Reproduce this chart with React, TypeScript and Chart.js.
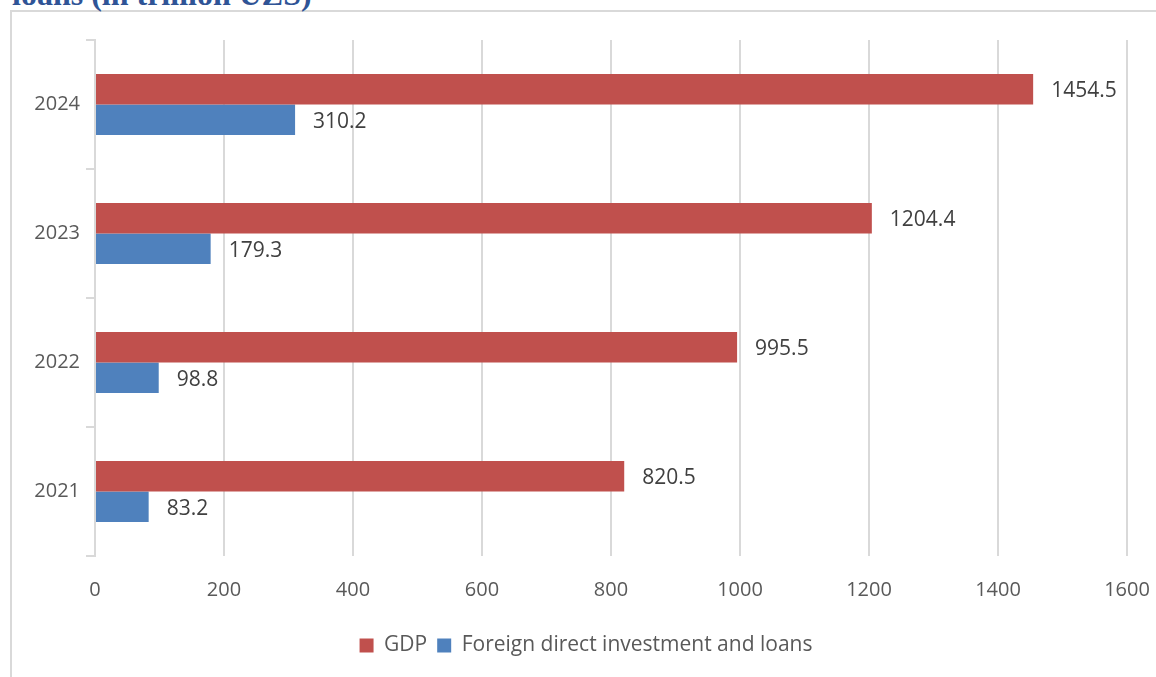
import React, { useEffect, useRef } from "react";
import { Chart, registerables } from "chart.js";

Chart.register(...registerables);

const categories = ["2024", "2023", "2022", "2021"];
const gdpValues = [1454.5, 1204.4, 995.5, 820.5];
const fdiValues = [310.2, 179.3, 98.8, 83.2];
const xTickMax = 1600;
const xTickStep = 200;
const seriesNames = ["GDP", "Foreign direct investment and loans"];
const titleText = "loans (in trillion UZS)";

const FONT = "'Open Sans', 'Noto Sans', sans-serif";

const dataLabelPlugin = {
  id: "dataLabels",
  afterDatasetsDraw(chart: any) {
    const ctx = chart.ctx;
    ctx.save();
    ctx.font = `21px ${FONT}`;
    ctx.fillStyle = "#404040";
    ctx.textAlign = "left";
    ctx.textBaseline = "middle";
    chart.data.datasets.forEach((ds: any, di: number) => {
      const meta = chart.getDatasetMeta(di);
      meta.data.forEach((bar: any, i: number) => {
        const v = ds.data[i] as number;
        ctx.fillText(v.toFixed(1), bar.x + 18, bar.y + 2);
      });
    });
    ctx.restore();
  },
};

const legendShiftPlugin = {
  id: "legendShift",
  beforeDraw(chart: any) {
    if (chart.legend) {
      chart.legend.left = 45;
      chart.legend.right = 1127;
      chart.legend.width = 1127 - 45;
      chart.legend.adjustHitBoxes && chart.legend.adjustHitBoxes();
    }
  },
};

export default function App() {
  const ref = useRef<HTMLCanvasElement | null>(null);
  useEffect(() => {
    if (!ref.current) return;
    const chart = new Chart(ref.current, {
      type: "bar",
      data: {
        labels: categories,
        datasets: [
          {
            label: seriesNames[0],
            data: gdpValues,
            backgroundColor: "#C0504D",
            categoryPercentage: 0.472,
            barPercentage: 1,
          },
          {
            label: seriesNames[1],
            data: fdiValues,
            backgroundColor: "#4F81BD",
            categoryPercentage: 0.472,
            barPercentage: 1,
          },
        ],
      },
      options: {
        indexAxis: "y",
        responsive: false,
        animation: false,
        layout: { padding: { left: 0, right: 29, top: 40, bottom: 11 } },
        plugins: {
          tooltip: { enabled: false },
          legend: {
            position: "bottom",
            labels: {
              font: { family: FONT, size: 21 },
              color: "#595959",
              boxWidth: 14,
              boxHeight: 14,
              padding: 10,
            },
          },
        },
        scales: {
          x: {
            min: 0,
            max: xTickMax,
            ticks: {
              stepSize: xTickStep,
              font: { family: FONT, size: 20 },
              color: "#595959",
              padding: 22,
              maxRotation: 0,
              callback: (v: any) => String(v),
            },
            grid: { color: "#D9D9D9", lineWidth: 2, drawTicks: false },
            border: { display: false },
            afterFit(scale: any) {
              scale.height = 69;
              scale.paddingRight = 0;
              scale.paddingLeft = 0;
            },
          },
          y: {
            ticks: {
              font: { family: FONT, size: 20 },
              color: "#595959",
              padding: 6,
            },
            grid: {
              drawOnChartArea: false,
              drawTicks: true,
              tickLength: 9,
              color: "#D9D9D9",
              lineWidth: 2,
            },
            border: { display: true, color: "#D9D9D9", width: 2 },
            afterFit(scale: any) {
              scale.width = 95;
            },
          },
        },
      },
      plugins: [dataLabelPlugin, legendShiftPlugin],
    } as any);
    return () => chart.destroy();
  }, []);

  return (
    <div style={{ position: "absolute", left: 0, top: 0, width: 1156, height: 677, overflow: "hidden", background: "#fff" }}>
      <div
        style={{
          position: "absolute",
          left: 10,
          top: 10,
          width: 1200,
          height: 700,
          border: "2px solid #D9D9D9",
          boxSizing: "border-box",
        }}
      />
      <div
        style={{
          position: "absolute",
          left: 12,
          top: -22,
          fontFamily: "'Liberation Serif', 'Times New Roman', serif",
          fontWeight: "bold",
          fontSize: 32,
          lineHeight: "32px",
          color: "#2F5496",
          whiteSpace: "nowrap",
        }}
      >
        {titleText}
      </div>
      <canvas ref={ref} width={1156} height={677} style={{ position: "absolute", left: 0, top: 0 }} />
    </div>
  );
}
